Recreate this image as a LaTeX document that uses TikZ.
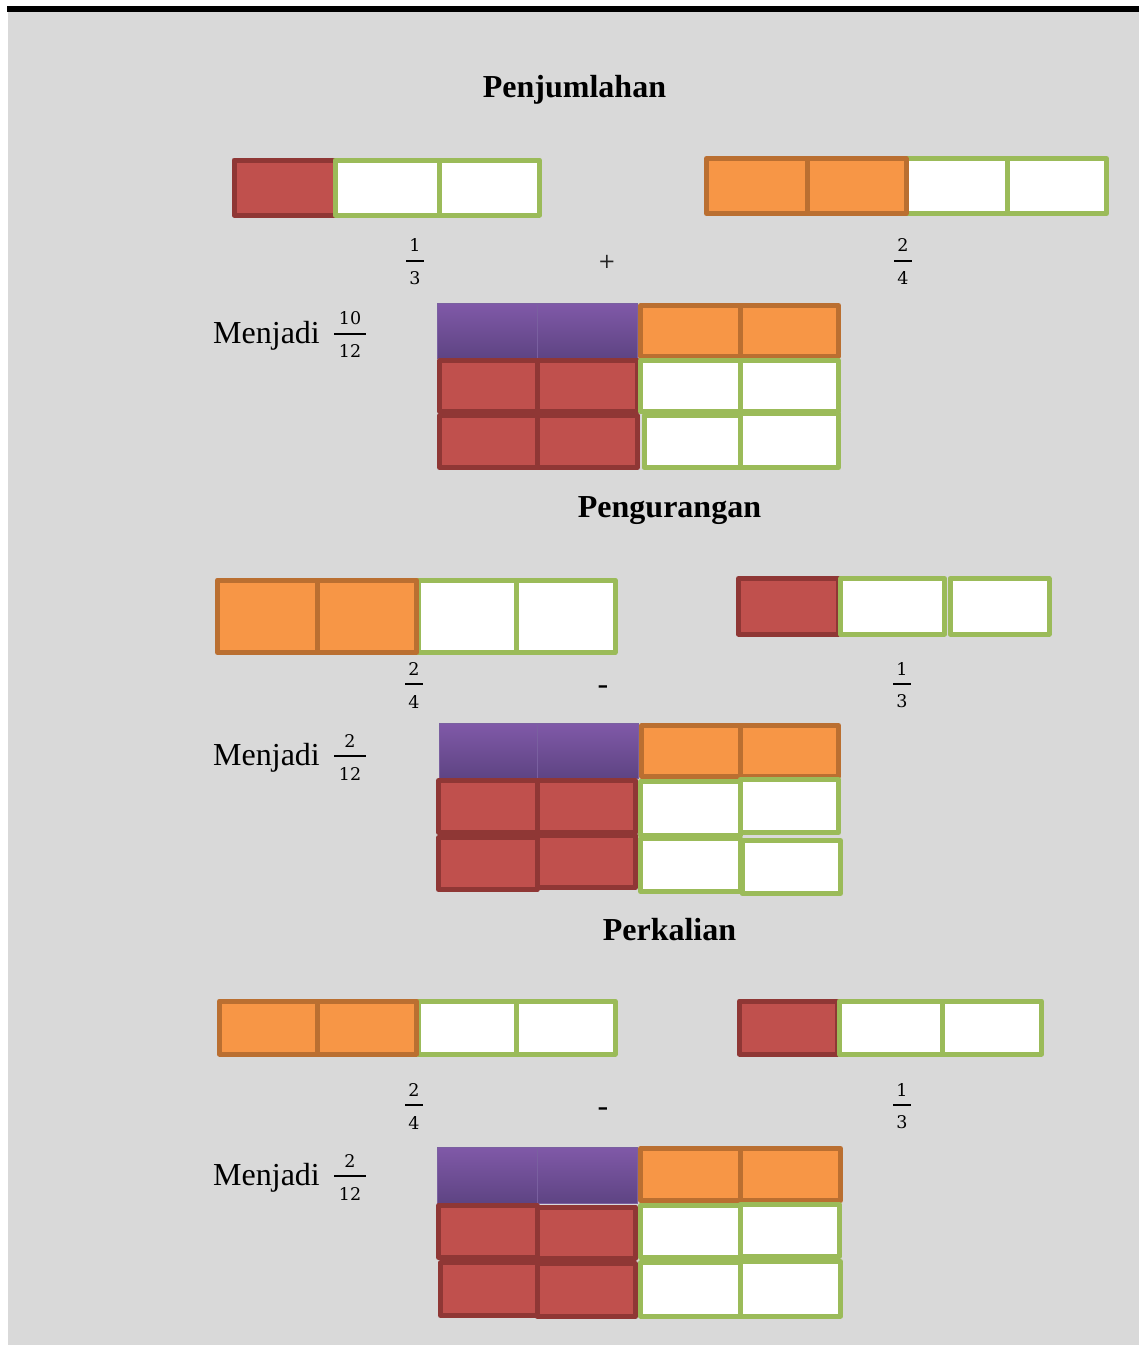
\documentclass[tikz,border=0pt]{standalone}
\usepackage[no-math]{fontspec}
\setmainfont{Liberation Serif}
\newfontfamily\digitfont{DejaVu Serif}
\usetikzlibrary{calc}

\definecolor{panel}{HTML}{D9D9D9}
\definecolor{redfill}{HTML}{C0504D}
\definecolor{redline}{HTML}{8F3735}
\definecolor{greenline}{HTML}{9BBB59}
\definecolor{orangefill}{HTML}{F79646}
\definecolor{orangeline}{HTML}{BA6F31}
\definecolor{purpletop}{HTML}{8059A8}
\definecolor{purplebot}{HTML}{5E4483}
\definecolor{purpleedge}{HTML}{7A60A0}

\tikzset{
  cellbase/.style={line width=5pt, line join=round},
  redcell/.style={cellbase, fill=redfill, draw=redline},
  greencell/.style={cellbase, fill=white, draw=greenline},
  orangecell/.style={cellbase, fill=orangefill, draw=orangeline},
  purplecell/.style={top color=purpletop, bottom color=purplebot, draw=purpleedge, line width=0.8pt},
  title/.style={font=\fontsize{32}{38}\selectfont\bfseries, anchor=base, inner sep=0pt},
  result/.style={font=\fontsize{32}{38}\selectfont, anchor=base west, inner sep=0pt},
  fracdigit/.style={font=\fontsize{17.5}{21}\digitfont, inner sep=0pt},
  fracbar/.style={line width=1.6pt},
  opsign/.style={font=\fontsize{21}{25}\digitfont, text=black!85, inner sep=0pt},
  dashsign/.style={font=\fontsize{32}{38}\selectfont, inner sep=0pt}
}

% one cell of a fraction strip: style, x1, y1, x2, y2
\newcommand\cellbox[5]{\draw[#1] (#2,#3) rectangle (#4,#5);}
\newcommand\purplebox[4]{\shade[purplecell] (#1,#2) rectangle (#3,#4);}
% stacked fraction: name, x, y of bar, numerator, denominator, half bar width
\newcommand\fracat[6]{%
  \node[fracdigit] (#1n) at (#2,#3-15.5) {#4};
  \node[fracdigit] (#1d) at (#2,#3+17.5) {#5};
  \draw[fracbar] (#2-#6,#3) -- (#2+#6,#3);}

\begin{document}
\begin{tikzpicture}[x=1pt,y=-1pt]
\useasboundingbox (0,0) rectangle (1139,1346);
\fill[white] (0,0) rectangle (1139,1346);
\fill[panel] (8,12) rectangle (1139,1345);
\fill[black] (7,6) rectangle (1139,12);

% ---------- Penjumlahan ----------
\node[title] (t1) at (574.5,97) {Penjumlahan};

% 1/3 strip
\cellbox{redcell}{234}{160}{335}{215}
\cellbox{greencell}{335}{160}{439}{215}
\cellbox{greencell}{439}{160}{539.5}{215}
% 2/4 strip
\cellbox{greencell}{906}{158.5}{1007}{213.5}
\cellbox{greencell}{1007}{158.5}{1106.5}{213.5}
\cellbox{orangecell}{706.5}{158.5}{807}{213.5}
\cellbox{orangecell}{807}{158.5}{906}{213.5}

\fracat{f1a}{415}{261}{1}{3}{9}
\node[opsign] (plus1) at (607,262) {+};
\fracat{f1b}{903}{261}{2}{4}{9}

\node[result] (m1) at (213,343) {Menjadi};
\fracat{f1c}{350}{334}{10}{12}{16}

% 3 x 4 result grid
\purplebox{437}{303}{537}{358}
\purplebox{537}{303}{637}{358}
\cellbox{orangecell}{640.5}{305.5}{740}{356}
\cellbox{orangecell}{740}{305.5}{838.5}{356}
\cellbox{redcell}{439.5}{360.5}{537}{411}
\cellbox{redcell}{537}{360.5}{637.5}{411}
\cellbox{redcell}{439.5}{415.5}{537}{467.5}
\cellbox{redcell}{537}{415.5}{637.5}{467.5}
\cellbox{greencell}{640.5}{360.5}{740}{411}
\cellbox{greencell}{740}{360.5}{838.5}{411}
\cellbox{greencell}{644}{415.5}{740}{467.5}
\cellbox{greencell}{740}{413.5}{838.5}{467.5}

% ---------- Pengurangan ----------
\node[title] (t2) at (669.5,517) {Pengurangan};

% 2/4 strip
\cellbox{greencell}{418}{580}{516}{652.5}
\cellbox{greencell}{516}{580}{615}{652.5}
\cellbox{orangecell}{217.5}{580}{317}{652.5}
\cellbox{orangecell}{317}{580}{416.5}{652.5}
% 1/3 strip
\cellbox{redcell}{738.5}{578.5}{838}{634}
\cellbox{greencell}{840.5}{578.5}{944.5}{634}
\cellbox{greencell}{950}{578.5}{1049}{634}

\fracat{f2a}{414}{684}{2}{4}{9}
\node[dashsign] (minus2) at (603,690) {-};
\fracat{f2b}{902}{684}{1}{3}{9}

\node[result] (m2) at (213,765) {Menjadi};
\fracat{f2c}{350}{756}{2}{12}{16}

\purplebox{439}{723}{537}{778}
\purplebox{537}{723}{638}{778}
\cellbox{orangecell}{641.5}{725.5}{740}{776.5}
\cellbox{orangecell}{740}{725.5}{838.5}{776.5}
\cellbox{redcell}{438.5}{780.5}{537}{832.5}
\cellbox{redcell}{537}{780.5}{635.5}{832.5}
\cellbox{redcell}{438.5}{837.5}{537}{889.5}
\cellbox{redcell}{537}{835.5}{635.5}{887.5}
\cellbox{greencell}{640.5}{781.5}{740}{835}
\cellbox{greencell}{740}{779.5}{838.5}{832.5}
\cellbox{greencell}{640.5}{838.5}{740}{891.5}
\cellbox{greencell}{742}{840.5}{840.5}{893.5}

% ---------- Perkalian ----------
\node[title] (t3) at (669.5,940) {Perkalian};

\cellbox{greencell}{418}{1001}{516}{1054}
\cellbox{greencell}{516}{1001}{615}{1054}
\cellbox{orangecell}{219.5}{1001}{317}{1054}
\cellbox{orangecell}{317}{1001}{416.5}{1054}

\cellbox{redcell}{739.5}{1001}{837}{1054}
\cellbox{greencell}{839}{1001}{942}{1054}
\cellbox{greencell}{942}{1001}{1041.5}{1054}

\fracat{f3a}{414}{1105}{2}{4}{9}
\node[dashsign] (minus3) at (603,1112) {-};
\fracat{f3b}{902}{1105}{1}{3}{9}

\node[result] (m3) at (213,1185) {Menjadi};
\fracat{f3c}{350}{1176}{2}{12}{16}

\purplebox{437}{1147}{537}{1203}
\purplebox{537}{1147}{637}{1203}
\cellbox{orangecell}{640.5}{1148.5}{740}{1200.5}
\cellbox{orangecell}{740}{1148.5}{840.5}{1200.5}
\cellbox{redcell}{438.5}{1205.5}{537}{1257.5}
\cellbox{redcell}{537}{1207}{635.5}{1258}
\cellbox{redcell}{440.5}{1262.5}{537}{1315.5}
\cellbox{redcell}{537}{1263.5}{635.5}{1316.5}
\cellbox{greencell}{640.5}{1205.5}{740}{1257.5}
\cellbox{greencell}{740}{1204.5}{839.5}{1256.5}
\cellbox{greencell}{640.5}{1262.5}{740}{1316}
\cellbox{greencell}{740}{1261.5}{840.5}{1316}
\end{tikzpicture}
\end{document}
